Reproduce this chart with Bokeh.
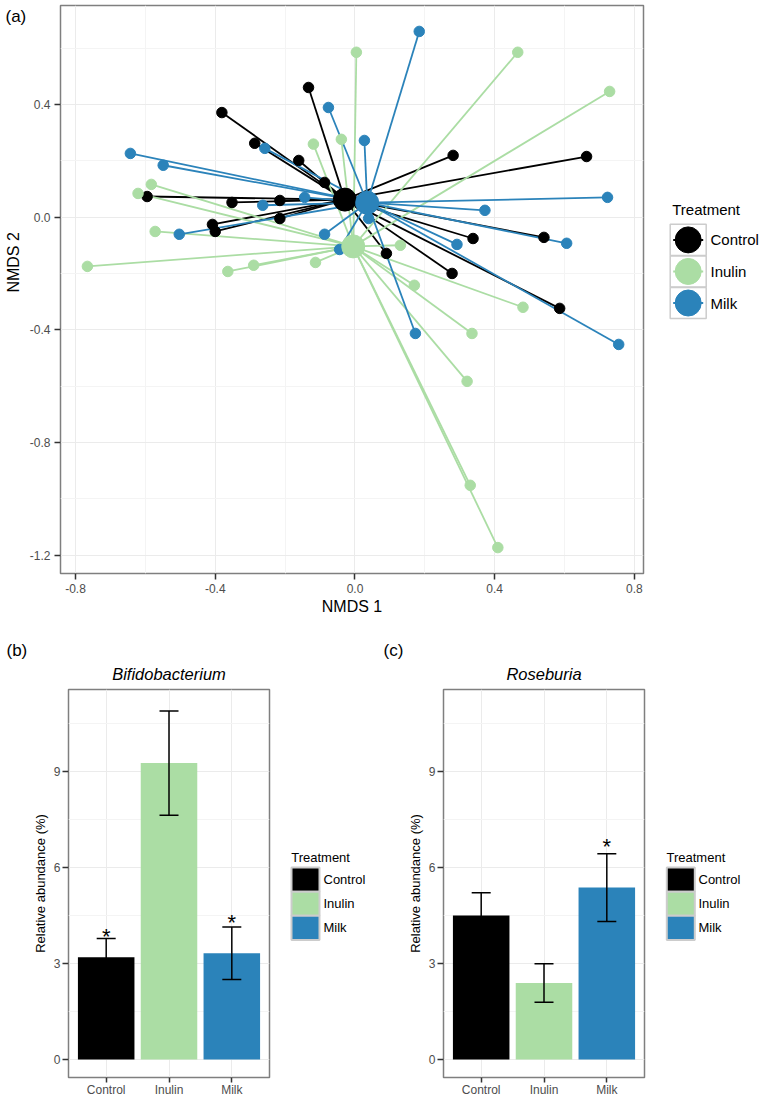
import math
from bokeh.plotting import figure
from bokeh.layouts import column, row
from bokeh.models import (ColumnDataSource, Range1d, FactorRange, FixedTicker,
                          NumeralTickFormatter, Whisker, TeeHead, Title)
from bokeh.core.properties import value
from bokeh.embed import file_html
from bokeh.resources import INLINE

FONT = "Liberation Sans"

# ---------------- data ----------------
treatments = ["Control", "Inulin", "Milk"]
colors = ["#000000", "#abdda4", "#2b83ba"]

control_x = [-0.133, -0.381, -0.287, -0.161, -0.087, -0.595, -0.352, -0.215, -0.408,
             -0.400, -0.215, 0.281, 0.663, 0.338, 0.541, 0.090, 0.278, 0.586]
control_y = [0.460, 0.371, 0.262, 0.201, 0.123, 0.073, 0.052, 0.059, -0.026,
             -0.051, -0.005, 0.219, 0.215, -0.076, -0.072, -0.129, -0.200, -0.324]

inulin_x = [0.004, -0.119, -0.039, -0.583, -0.621, -0.572, -0.766, -0.364, -0.290,
            -0.113, 0.466, 0.729, 0.130, 0.170, 0.481, 0.335, 0.321, 0.330, 0.409]
inulin_y = [0.585, 0.259, 0.276, 0.116, 0.084, -0.051, -0.175, -0.193, -0.171,
            -0.161, 0.585, 0.446, -0.100, -0.242, -0.320, -0.413, -0.583, -0.952, -1.173]

milk_x = [-0.076, -0.258, -0.643, -0.549, -0.264, -0.144, -0.503, -0.087, 0.184,
          0.027, 0.723, 0.372, 0.606, 0.292, 0.755, 0.173, 0.039, -0.044]
milk_y = [0.389, 0.244, 0.226, 0.184, 0.042, 0.070, -0.061, -0.061, 0.659,
          0.272, 0.070, 0.024, -0.093, -0.097, -0.452, -0.413, -0.005, -0.115]

centroid_x = [-0.029, -0.005, 0.035]
centroid_y = [0.062, -0.104, 0.051]

nmds_x_ticks = [-0.8, -0.4, 0.0, 0.4, 0.8]
nmds_x_minor = [-0.6, -0.2, 0.2, 0.6]
nmds_y_ticks = [-1.2, -0.8, -0.4, 0.0, 0.4]
nmds_y_minor = [-1.0, -0.6, -0.2, 0.2, 0.6]

bifido_mean = [3.19, 9.26, 3.32]
bifido_se = [0.59, 1.63, 0.82]
bifido_sig = ["*", "", "*"]

roseb_mean = [4.50, 2.39, 5.37]
roseb_se = [0.71, 0.60, 1.06]
roseb_sig = ["", "", "*"]

bar_ticks = [0, 3, 6, 9]
bar_minor = [1.5, 4.5, 7.5, 10.5]


def style_axes(p, tick_size, label_size, tick_standoff, label_standoff):
    for ax in p.axis:
        ax.axis_line_color = None
        ax.major_tick_in = 0
        ax.major_tick_out = 6
        ax.major_tick_line_color = "#333333"
        ax.major_tick_line_width = 1.5
        ax.minor_tick_line_color = None
        ax.major_label_text_font = FONT
        ax.major_label_text_font_size = tick_size
        ax.major_label_text_color = "#4d4d4d"
        ax.major_label_standoff = tick_standoff
        ax.axis_label_text_font = FONT
        ax.axis_label_text_font_size = label_size
        ax.axis_label_text_font_style = "normal"
        ax.axis_label_text_color = "#000000"
        ax.axis_label_standoff = label_standoff
    p.outline_line_color = "#7f7f7f"
    p.outline_line_width = 1.5
    p.grid.grid_line_color = "#ebebeb"
    p.grid.grid_line_width = 1
    p.grid.minor_grid_line_color = "#f4f4f4"
    p.grid.minor_grid_line_width = 1


def plain_figure(w, h, flip=True):
    yr = Range1d(h, 0) if flip else Range1d(0, h)
    return figure(width=w, height=h, x_range=Range1d(0, w), y_range=yr,
                  x_axis_type=None, y_axis_type=None, min_border=0,
                  outline_line_color=None, output_backend="svg",
                  toolbar_location=None, title=None)


def txt(f, x, y, t, size, align="left", angle=0.0):
    f.text(x=x, y=y, text=t, text_font=value(FONT), text_font_size=value(size),
           text_align=align, text_baseline="middle", text_color="#000000",
           angle=angle)


# ---------------- panel (a): NMDS ----------------
A_H = 639

# left strip holding the panel tag and the vertical axis title
sa = plain_figure(26, A_H, flip=False)
txt(sa, 5, A_H - 12, ["(a)"], "17px")
txt(sa, 13, A_H - 289, ["NMDS 2"], "16px", align="center", angle=math.pi / 2)

pa = figure(width=622, height=A_H, x_range=Range1d(-0.843, 0.826),
            y_range=Range1d(-1.265, 0.751),
            output_backend="svg", toolbar_location=None, title=None,
            min_border_left=32, min_border_right=5, min_border_top=5,
            min_border_bottom=A_H - 573)
pa.xaxis.ticker = FixedTicker(ticks=nmds_x_ticks, minor_ticks=nmds_x_minor)
pa.yaxis.ticker = FixedTicker(ticks=nmds_y_ticks, minor_ticks=nmds_y_minor)
pa.xaxis.formatter = NumeralTickFormatter(format="0.0")
pa.yaxis.formatter = NumeralTickFormatter(format="0.0")
pa.xaxis.axis_label = "NMDS 1"
style_axes(pa, "12px", "16px", 4, 2)

groups = [(control_x, control_y), (inulin_x, inulin_y), (milk_x, milk_y)]
for i, (xs, ys) in enumerate(groups):
    src = ColumnDataSource(dict(x0=[centroid_x[i]] * len(xs), y0=[centroid_y[i]] * len(xs),
                                x1=xs, y1=ys))
    pa.segment(x0="x0", y0="y0", x1="x1", y1="y1", source=src,
               line_color=colors[i], line_width=1.8)
for i, (xs, ys) in enumerate(groups):
    pa.scatter(x=xs, y=ys, size=10.5, fill_color=colors[i], line_color=colors[i])
pa.scatter(x=centroid_x, y=centroid_y, size=23, fill_color=colors, line_color=colors)

# legend (a)
la = plain_figure(115, A_H)
cy_a = [263.7, 299.2, 334.7]
la.rect(x=39.7, y=cy_a, width=36, height=35, fill_color="white",
        line_color="#cccccc", line_width=1.5)
la.segment(x0=24.7, y0=cy_a, x1=54.7, y1=cy_a, line_color=colors, line_width=2)
la.scatter(x=39.7, y=cy_a, size=26, fill_color=colors, line_color=colors)
txt(la, 62, cy_a, treatments, "15px")
txt(la, 23.7, 230, ["Treatment"], "15px")

# ---------------- panels (b), (c): bars ----------------
B_H = 1099 - A_H


def bar_panel(mean, se, sig, title, tag, left, tag_offset):
    p = figure(width=left + 201 + 6, height=B_H,
               x_range=FactorRange(factors=treatments, range_padding=0.1,
                                   range_padding_units="absolute"),
               y_range=Range1d(-0.564, 11.56), output_backend="svg",
               toolbar_location=None, title=None,
               min_border_left=left, min_border_right=6, min_border_top=50,
               min_border_bottom=B_H - 50 - 391)
    p.yaxis.ticker = FixedTicker(ticks=bar_ticks, minor_ticks=bar_minor)
    p.yaxis.formatter = NumeralTickFormatter(format="0")
    p.yaxis.axis_label = "Relative abundance (%)"
    style_axes(p, "12px", "13px", 2, 3)
    p.xaxis.major_label_standoff = 0
    p.xaxis.major_tick_out = 5

    src = ColumnDataSource(dict(
        x=treatments, top=mean, color=colors,
        upper=[m + s for m, s in zip(mean, se)],
        lower=[m - s for m, s in zip(mean, se)],
        star_y=[m + 1.35 * s for m, s in zip(mean, se)],
        sig=sig))
    p.vbar(x="x", top="top", width=0.9, fill_color="color", line_color=None, source=src)
    w = Whisker(base="x", upper="upper", lower="lower", source=src,
                line_color="#000000", line_width=1.5, level="overlay",
                upper_head=TeeHead(size=19, line_color="#000000", line_width=1.5),
                lower_head=TeeHead(size=19, line_color="#000000", line_width=1.5))
    p.add_layout(w)
    p.text(x="x", y="star_y", text="sig", source=src, text_font=value(FONT),
           text_font_size=value("22px"), text_align="center", text_baseline="middle",
           y_offset=5, text_color="#000000")

    p.add_layout(Title(text=title, align="center", text_font=FONT,
                       text_font_size="16.5px", text_font_style="italic",
                       text_color="#000000", standoff=13), "above")
    p.add_layout(Title(text=tag, align="left", offset=tag_offset, text_font=FONT,
                       text_font_size="17px", text_font_style="normal",
                       text_color="#000000", standoff=-6), "above")
    return p


def bar_legend(w, title_x, key_x, label_x):
    f = plain_figure(w, B_H)
    cy = [225.3, 254.0, 282.7]
    f.rect(x=key_x, y=cy, width=28, height=28.7, fill_color=colors,
           line_color="#cccccc", line_width=2)
    txt(f, label_x, cy, treatments, "13px")
    txt(f, title_x, 198.8, ["Treatment"], "13px")
    return f


pb = bar_panel(bifido_mean, bifido_se, bifido_sig, "Bifidobacterium", "(b)", 68, -62)
lb = bar_legend(105, 15.7, 30, 48)
pc = bar_panel(roseb_mean, roseb_se, roseb_sig, "Roseburia", "(c)", 63, -60)
lc = bar_legend(113, 16, 30.3, 48)

layout = column(row(sa, pa, la), row(pb, lb, pc, lc))

open("out.html", "w").write(file_html(layout, INLINE))
